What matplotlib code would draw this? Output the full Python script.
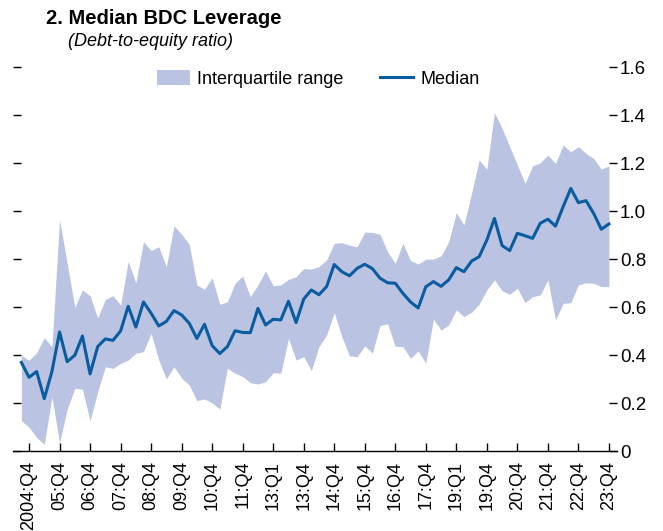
import matplotlib
matplotlib.use("Agg")
import matplotlib.pyplot as plt
from matplotlib.patches import Patch
from matplotlib.lines import Line2D

# quarterly data, 2004:Q3 .. 2023:Q4
median = [0.369, 0.307, 0.331, 0.218, 0.331, 0.496, 0.372, 0.399, 0.479, 0.321,
          0.435, 0.467, 0.461, 0.500, 0.603, 0.516, 0.621, 0.574, 0.521, 0.540,
          0.585, 0.567, 0.532, 0.469, 0.528, 0.439, 0.406, 0.435, 0.501, 0.494,
          0.493, 0.594, 0.525, 0.549, 0.546, 0.624, 0.535, 0.633, 0.671, 0.651,
          0.685, 0.777, 0.747, 0.730, 0.761, 0.778, 0.760, 0.720, 0.701, 0.699,
          0.657, 0.621, 0.596, 0.684, 0.706, 0.686, 0.713, 0.764, 0.747, 0.791,
          0.810, 0.879, 0.969, 0.856, 0.835, 0.907, 0.897, 0.886, 0.949, 0.966,
          0.937, 1.018, 1.094, 1.035, 1.043, 0.990, 0.924, 0.946]
upper = [0.399, 0.378, 0.410, 0.472, 0.435, 0.963, 0.782, 0.599, 0.671, 0.647,
         0.554, 0.632, 0.647, 0.608, 0.790, 0.700, 0.872, 0.835, 0.851, 0.768,
         0.938, 0.903, 0.861, 0.692, 0.674, 0.722, 0.611, 0.622, 0.699, 0.729,
         0.643, 0.692, 0.750, 0.688, 0.692, 0.715, 0.726, 0.760, 0.758, 0.768,
         0.796, 0.865, 0.868, 0.858, 0.851, 0.912, 0.911, 0.903, 0.830, 0.782,
         0.865, 0.794, 0.779, 0.799, 0.800, 0.813, 0.872, 0.993, 0.942, 1.074,
         1.213, 1.174, 1.410, 1.345, 1.268, 1.192, 1.115, 1.188, 1.201, 1.233,
         1.198, 1.275, 1.247, 1.268, 1.240, 1.219, 1.174, 1.188]
lower = [0.126, 0.099, 0.056, 0.028, 0.226, 0.035, 0.174, 0.261, 0.257, 0.126,
         0.247, 0.351, 0.344, 0.365, 0.379, 0.407, 0.414, 0.490, 0.379, 0.300,
         0.351, 0.303, 0.275, 0.210, 0.217, 0.200, 0.175, 0.345, 0.324, 0.310,
         0.285, 0.279, 0.289, 0.326, 0.324, 0.470, 0.379, 0.393, 0.335, 0.435,
         0.483, 0.576, 0.476, 0.396, 0.393, 0.438, 0.408, 0.523, 0.530, 0.436,
         0.435, 0.386, 0.417, 0.366, 0.550, 0.504, 0.525, 0.588, 0.560, 0.578,
         0.612, 0.671, 0.713, 0.668, 0.653, 0.678, 0.618, 0.643, 0.650, 0.713,
         0.546, 0.615, 0.618, 0.692, 0.701, 0.699, 0.685, 0.685]

tick_labels = ["2004:Q4", "05:Q4", "06:Q4", "07:Q4", "08:Q4", "09:Q4", "10:Q4",
               "11:Q4", "13:Q1", "13:Q4", "14:Q4", "15:Q4", "16:Q4", "17:Q4",
               "19:Q1", "19:Q4", "20:Q4", "21:Q4", "22:Q4", "23:Q4"]

FONT = ["Liberation Sans Narrow", "Liberation Sans", "DejaVu Sans"]
plt.rcParams["font.family"] = FONT
plt.rcParams["font.size"] = 13

fill_col = "#BAC4E2"
line_col = "#0A5CA0"

fig = plt.figure(figsize=(6.63, 5.31), dpi=100)
ax = fig.add_axes([13 / 663, 80 / 531, 604 / 663, 384 / 531])

x = list(range(len(median)))
ax.fill_between(x, lower, upper, color=fill_col, linewidth=0)
ax.plot(x, median, color=line_col, linewidth=2.2)

ax.set_xlim(-1.1, 78.06)
ax.set_ylim(0, 1.6)

ax.set_xticks(x[1::4])
ax.set_xticklabels(tick_labels, rotation=90)
ax.set_yticks([0, 0.2, 0.4, 0.6, 0.8, 1.0, 1.2, 1.4, 1.6])
ax.set_yticklabels(["0", "0.2", "0.4", "0.6", "0.8", "1.0", "1.2", "1.4", "1.6"])

for s in ["left", "right", "top"]:
    ax.spines[s].set_visible(False)
ax.spines["bottom"].set_linewidth(1.0)

ax.tick_params(axis="x", direction="in", length=6, width=1, pad=7, labelsize=13)
ax.tick_params(axis="y", direction="in", length=6, width=1, pad=2, labelsize=13.5,
               left=True, right=True, labelleft=False, labelright=True)

handles = [Patch(facecolor=fill_col, edgecolor="none"),
           Line2D([0], [0], color=line_col, linewidth=2.2)]
ax.legend(handles, ["Interquartile range", "Median"], loc="upper center",
          bbox_to_anchor=(0.505, 1.012), ncol=2, frameon=False, fontsize=13,
          handlelength=1.85, handleheight=0.95, handletextpad=0.4,
          columnspacing=2.0, borderaxespad=0)

fig.text(46 / 663, 1 - 18 / 531, "2. Median BDC Leverage", fontsize=14.5,
         fontweight="bold", va="center", ha="left")
fig.text(68 / 663, 1 - 42 / 531, "(Debt-to-equity ratio)", fontsize=13,
         style="italic", va="center", ha="left")

fig.savefig("out.png", dpi=100)
